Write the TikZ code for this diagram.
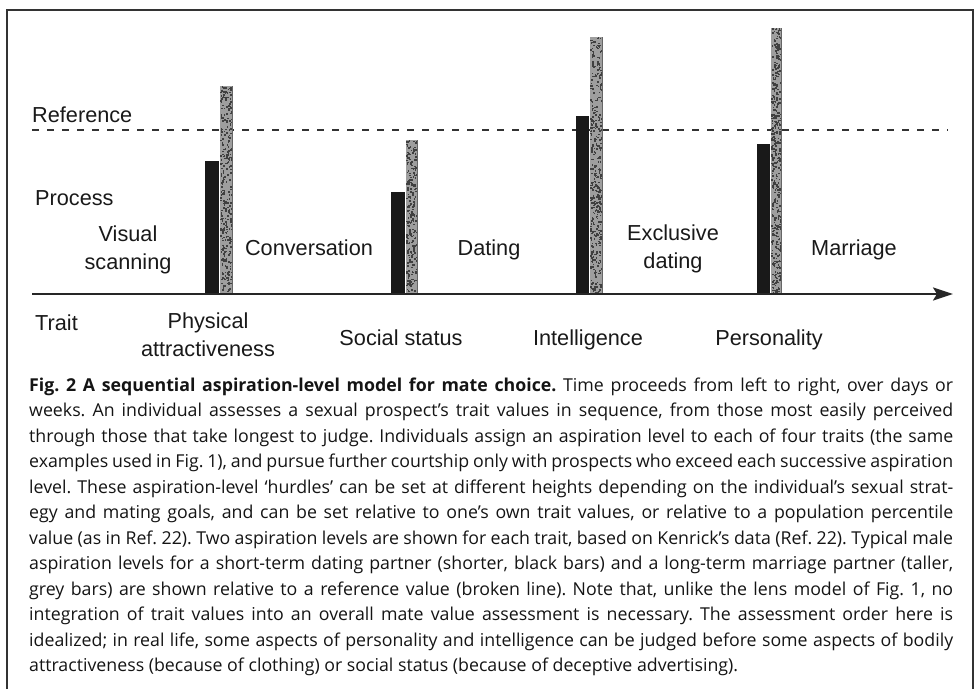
\documentclass[tikz,border=0pt]{standalone}
\usepackage{fontspec}
\setmainfont{Liberation Sans}
\newfontfamily\capfont{Open Sans}
\usetikzlibrary{arrows.meta}
\newlength\lastw
\begin{document}
\frenchspacing
\settowidth{\lastw}{\capfont\fontsize{10pt}{12pt}\selectfont attractiveness (because of clothing) or social status (because of deceptive advertising).}
\pgfmathsetmacro\capsz{10*709/\lastw}
\begin{tikzpicture}[x=1pt,y=-1pt,
  lbl/.style={font=\fontsize{21.7}{28}\selectfont, text=black!90, inner sep=0pt, align=center},
  capline/.style={font=\capfont\fontsize{\capsz pt}{25pt}\selectfont, text=black!92, inner sep=0pt, anchor=base west},
  blackbar/.style={fill=black!90},
  greybar/.style={fill=black!38},
  speck/.style={fill=black!75},
  frameline/.style={line width=1.6pt, draw=black!80}]
\useasboundingbox (0,0) rectangle (977,689);
\pgfmathsetseed{4242}
% frame
\draw[frameline] (7,689) -- (7,10) -- (973,10) -- (973,689);
% reference line
\coordinate (refL) at (32,130);
\coordinate (refR) at (948,130);
\draw[line width=2pt, black!80, dash pattern=on 7pt off 8pt] (refL) -- (refR);
% bars: black (short-term) and grey stippled (long-term)
\foreach \bx/\bw/\btop/\gx/\gw/\gtop in {205/14/161/219.5/13.5/86, 391/14/192/405.5/12.5/140, 576/13/116/589.5/13.5/37, 757/13/144/770.5/11.5/28}{
  \fill[blackbar] (\bx,294) rectangle ++(\bw,\btop-294);
  \fill[greybar] (\gx,294) rectangle ++(\gw,\gtop-294);
  \pgfmathtruncatemacro\nsp{(294-\gtop)*1.6}
  \foreach \k in {1,...,\nsp}{
    \pgfmathsetmacro\sx{\gx+0.5+rnd*(\gw-2.5)}
    \pgfmathsetmacro\sy{\gtop+rnd*(294-\gtop-2)}
    \fill[speck] (\sx,\sy) rectangle ++(1.6,1.6);
  }
  \draw[black!60, line width=0.9pt] (\gx+\gw-0.5,294) -- (\gx+\gw-0.5,\gtop);
}
% axis
\coordinate (axL) at (32,294);
\coordinate (axR) at (953,294);
\draw[line width=2.4pt, black!85, -{Stealth[length=20pt,width=13pt,inset=4pt]}] (axL) -- (axR);
% row labels
\node[lbl, anchor=base west] (reference) at (32,122) {Reference};
\node[lbl, anchor=base west] (process) at (35,205) {Process};
\node[lbl, anchor=base west] (trait) at (35,330) {Trait};
% process labels
\node[lbl] (visual) at (128,250) {Visual\\scanning};
\node[lbl, anchor=base] (conv) at (309,255) {Conversation};
\node[lbl, anchor=base] (dating) at (489,255) {Dating};
\node[lbl] (excl) at (673,249) {Exclusive\\dating};
\node[lbl, anchor=base] (marriage) at (854,255) {Marriage};
% trait labels
\node[lbl] (phys) at (208,335) {Physical\\attractiveness};
\node[lbl, anchor=base] (social) at (401,345) {Social status};
\node[lbl, anchor=base] (intel) at (588,345) {Intelligence};
\node[lbl, anchor=base] (pers) at (769,345) {Personality};
% caption
\node[capline] (cap1) at (29,391) {\makebox[924pt][s]{\textbf{Fig. 2 A sequential aspiration-level model for mate choice.} Time proceeds from left to right, over days or}};
\node[capline] (cap2) at (29,416.5) {\makebox[924pt][s]{weeks. An individual assesses a sexual prospect’s trait values in sequence, from those most easily perceived}};
\node[capline] (cap3) at (29,442) {\makebox[924pt][s]{through those that take longest to judge. Individuals assign an aspiration level to each of four traits (the same}};
\node[capline] (cap4) at (29,467.5) {\makebox[924pt][s]{examples used in Fig. 1), and pursue further courtship only with prospects who exceed each successive aspiration}};
\node[capline] (cap5) at (29,493) {\makebox[924pt][s]{level. These aspiration-level ‘hurdles’ can be set at different heights depending on the individual’s sexual strat-}};
\node[capline] (cap6) at (29,518.5) {\makebox[924pt][s]{egy and mating goals, and can be set relative to one’s own trait values, or relative to a population percentile}};
\node[capline] (cap7) at (29,544) {\makebox[924pt][s]{value (as in Ref. 22). Two aspiration levels are shown for each trait, based on Kenrick’s data (Ref. 22). Typical male}};
\node[capline] (cap8) at (29,569.5) {\makebox[924pt][s]{aspiration levels for a short-term dating partner (shorter, black bars) and a long-term marriage partner (taller,}};
\node[capline] (cap9) at (29,595) {\makebox[924pt][s]{grey bars) are shown relative to a reference value (broken line). Note that, unlike the lens model of Fig. 1, no}};
\node[capline] (cap10) at (29,620.5) {\makebox[924pt][s]{integration of trait values into an overall mate value assessment is necessary. The assessment order here is}};
\node[capline] (cap11) at (29,646) {\makebox[924pt][s]{idealized; in real life, some aspects of personality and intelligence can be judged before some aspects of bodily}};
\node[capline] (cap12) at (29,671.5) {attractiveness (because of clothing) or social status (because of deceptive advertising).};
\end{tikzpicture}
\end{document}
